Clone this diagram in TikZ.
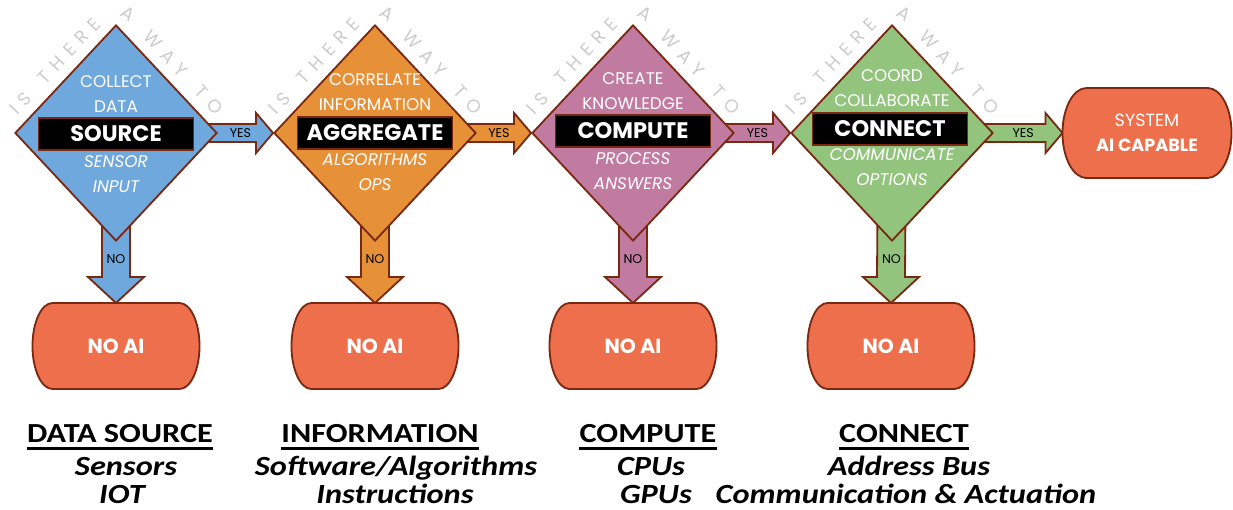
\documentclass[tikz,border=0pt]{standalone}
\usepackage{fontspec}
\setmainfont{Poppins}
\newfontfamily\calibrifont[FakeStretch=1.17]{Carlito}
\usetikzlibrary{shapes.geometric, decorations.text, calc}

\definecolor{srcblue}{HTML}{6FA8DC}
\definecolor{aggorange}{HTML}{E69138}
\definecolor{cmpmauve}{HTML}{C27BA0}
\definecolor{congreen}{HTML}{93C47D}
\definecolor{termred}{HTML}{EE6F4B}
\definecolor{edgebrown}{HTML}{7A2812}
\definecolor{waygray}{HTML}{CCCCCC}

\pgfdeclarelayer{bg}
\pgfsetlayers{bg,main}

\newcommand{\WAYFONT}{\fontsize{13}{13}\selectfont\color{waygray}}

\newcommand{\YESARROW}[3]{%
	\begin{pgfonlayer}{bg}
		\draw[flowarrow, fill=#3] ($(#1.center)+(0,-9)$) -- ($(#2.west)+(-17,-9)$) -- ($(#2.west)+(-17,-20)$)
			-- (#2.west) -- ($(#2.west)+(-17,20)$) -- ($(#2.west)+(-17,9)$) -- ($(#1.center)+(0,9)$) -- cycle;
	\end{pgfonlayer}}

\newcommand{\NOARROW}[3]{%
	\begin{pgfonlayer}{bg}
		\draw[flowarrow, fill=#3] ($(#1.center)+(-14,0)$) -- ($(#2.north)+(-14,-26)$) -- ($(#2.north)+(-28,-26)$)
			-- (#2.north) -- ($(#2.north)+(28,-26)$) -- ($(#2.north)+(14,-26)$) -- ($(#1.center)+(14,0)$) -- cycle;
	\end{pgfonlayer}}

% terminator outline with half-elliptic ends
\newcommand{\TERMSHAPE}[3]{%
	\begin{pgfonlayer}{bg}
		\draw[termline] ($(#1.north west)+(#2,0)$) -- ($(#1.north east)+(-#2,0)$)
			arc[start angle=90, end angle=-90, x radius=#2*0.025cm, y radius=#3*0.025cm]
			-- ($(#1.south west)+(#2,0)$)
			arc[start angle=270, end angle=90, x radius=#2*0.025cm, y radius=#3*0.025cm] -- cycle;
	\end{pgfonlayer}}

\newcommand{\WAYTEXT}[1]{%
	\path[decorate, rounded corners=4mm,
		decoration={text along path, text align={fit to path}, text={|\WAYFONT|IS THERE A WAY TO}}]
		($(#1.center)+(-99,-17)$) -- ($(#1.center)+(0,-123)$) -- ($(#1.center)+(99,-17)$);}

\newcommand{\UNDERLINE}[1]{%
	\draw[line width=1.9pt] ($(#1.base west)+(0,6.5)$) -- ($(#1.base east)+(0,6.5)$);}

\tikzset{
	decision/.style={diamond, draw=edgebrown, line width=1.3pt, minimum width=5.05cm, minimum height=5.4cm, inner sep=0pt},
	namebox/.style={rectangle, fill=black, draw=edgebrown, line width=1.3pt, minimum width=3.875cm, minimum height=0.8cm,
		inner sep=0pt, text=white, font=\fontsize{16}{16}\selectfont\bfseries},
	uptext/.style={text=white, align=center, inner sep=0pt, font=\fontsize{12}{17.8}\selectfont},
	lowtext/.style={uptext, font=\fontsize{12}{17.8}\selectfont\itshape},
	flowarrow/.style={draw=edgebrown, line width=1.3pt, line join=miter},
	yesno/.style={inner sep=0pt, font=\fontsize{9}{9}\selectfont},
	terminal/.style={rectangle, outer sep=0pt, inner sep=0pt, minimum width=4.175cm, minimum height=2.15cm,
		text=white, align=center, font=\fontsize{14.5}{17.8}\selectfont\bfseries},
	termline/.style={fill=termred, draw=edgebrown, line width=1.3pt},
	colhead/.style={anchor=base, inner sep=0pt, font=\calibrifont\fontsize{19.6}{19.6}\selectfont\bfseries},
	colline/.style={anchor=base, inner sep=0pt, font=\calibrifont\fontsize{19.7}{19.7}\selectfont\bfseries\itshape}
}

\begin{document}
\begin{tikzpicture}[x=0.025cm, y=-0.025cm]
	\useasboundingbox (0,0) rectangle (1233,510);

	% decisions
	\node[decision, fill=srcblue] (src) at (116,133) {};
	\node[decision, fill=aggorange] (agg) at (375,133) {};
	\node[decision, fill=cmpmauve] (cmp) at (633,133) {};
	\node[decision, fill=congreen] (con) at (892,133) {};

	% outcomes
	\node[terminal] (noai1) at (116,346) {NO AI};
	\node[terminal] (noai2) at (375,346) {NO AI};
	\node[terminal] (noai3) at (633,346) {NO AI};
	\node[terminal] (noai4) at (891,346) {NO AI};
	\node[terminal, minimum width=4.225cm, minimum height=2.25cm, font=\fontsize{12.5}{17.8}\selectfont\bfseries]
		(capable) at (1147,133) {\textmd{SYSTEM}\\AI CAPABLE};

	% inside the decisions
	\node[namebox] (srcbox) at (116,134) {SOURCE};
	\node[uptext] (srcup) at (116,94) {COLLECT\\DATA};
	\node[lowtext] (srclow) at (116,174) {SENSOR\\INPUT};

	\node[namebox] (aggbox) at (375,133) {AGGREGATE};
	\node[uptext] (aggup) at (375,92) {CORRELATE\\INFORMATION};
	\node[lowtext] (agglow) at (375,172) {ALGORITHMS\\OPS};

	\node[namebox] (cmpbox) at (633,131) {COMPUTE};
	\node[uptext] (cmpup) at (633,91) {CREATE\\KNOWLEDGE};
	\node[lowtext] (cmplow) at (633,171) {PROCESS\\ANSWERS};

	\node[namebox] (conbox) at (890,129) {CONNECT};
	\node[uptext] (conup) at (892,88) {COORD\\COLLABORATE};
	\node[lowtext] (conlow) at (892,167) {COMMUNICATE\\OPTIONS};

	\WAYTEXT{src}
	\WAYTEXT{agg}
	\WAYTEXT{cmp}
	\WAYTEXT{con}

	% yes / no
	\YESARROW{src}{agg}{srcblue}
	\YESARROW{agg}{cmp}{aggorange}
	\YESARROW{cmp}{con}{cmpmauve}
	\YESARROW{con}{capable}{congreen}
	\node[yesno] (yes1) at ($(src.east)!0.5!(agg.west)+(-5,0)$) {YES};
	\node[yesno] (yes2) at ($(agg.east)!0.5!(cmp.west)+(-5,0)$) {YES};
	\node[yesno] (yes3) at ($(cmp.east)!0.5!(con.west)+(-5,0)$) {YES};
	\node[yesno] (yes4) at ($(con.east)!0.5!(capable.west)+(-5,0)$) {YES};

	\NOARROW{src}{noai1}{srcblue}
	\NOARROW{agg}{noai2}{aggorange}
	\NOARROW{cmp}{noai3}{cmpmauve}
	\NOARROW{con}{noai4}{congreen}
	\node[yesno] (no1) at ($(src.south)!0.5!(noai1.north)+(0,-13)$) {NO};
	\node[yesno] (no2) at ($(agg.south)!0.5!(noai2.north)+(0,-13)$) {NO};
	\node[yesno] (no3) at ($(cmp.south)!0.5!(noai3.north)+(0,-13)$) {NO};
	\node[yesno] (no4) at ($(con.south)!0.5!(noai4.north)+(0,-13)$) {NO};

	\TERMSHAPE{noai1}{20}{43}
	\TERMSHAPE{noai2}{20}{43}
	\TERMSHAPE{noai3}{20}{43}
	\TERMSHAPE{noai4}{20}{43}
	\TERMSHAPE{capable}{24}{45}

	% legend
	\node[colhead] (dshead) at (120,442) {DATA SOURCE};
	\node[colline] (dsline1) at (126,475) {Sensors};
	\node[colline] (dsline2) at (122,503) {IOT};
	\node[colhead] (infohead) at (380,442) {INFORMATION};
	\node[colline] (infoline1) at (396,475) {Software/Algorithms};
	\node[colline] (infoline2) at (395,503) {Instructions};
	\node[colhead] (cmphead) at (648,442) {COMPUTE};
	\node[colline] (cmpline1) at (651,475) {CPUs};
	\node[colline] (cmpline2) at (656,503) {GPUs};
	\node[colhead] (conhead) at (904,442) {CONNECT};
	\node[colline] (conline1) at (909,475) {Address Bus};
	\node[colline] (conline2) at (906,503) {Communication \& Actuation};
	\UNDERLINE{dshead}
	\UNDERLINE{infohead}
	\UNDERLINE{cmphead}
	\UNDERLINE{conhead}
\end{tikzpicture}
\end{document}
